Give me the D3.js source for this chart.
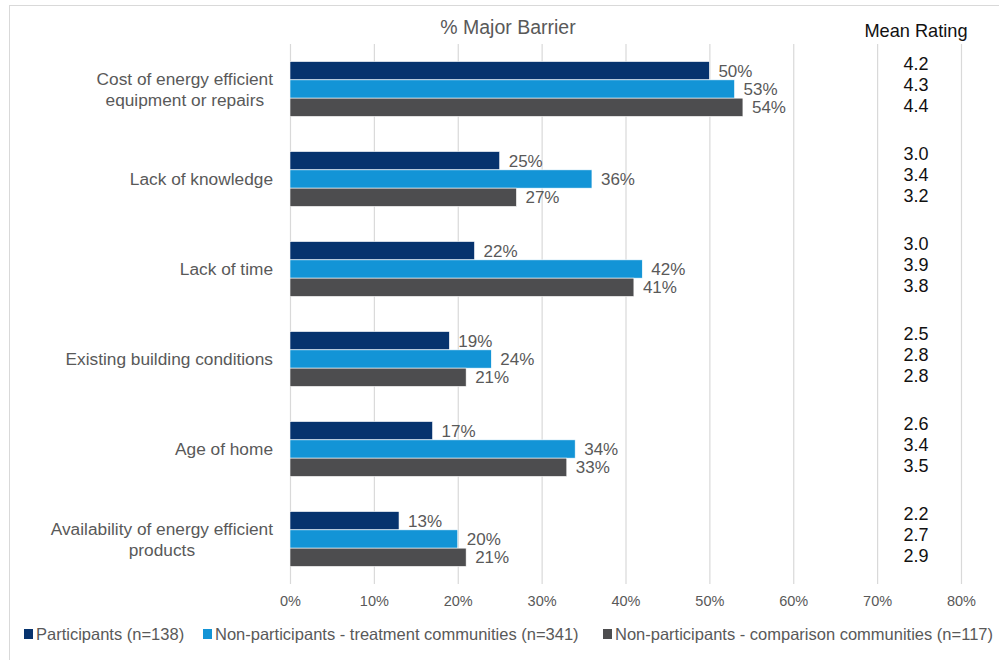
<!DOCTYPE html>
<html>
<head>
<meta charset="utf-8">
<script src="https://cdn.jsdelivr.net/npm/d3@7"></script>
<style>
  html, body { margin: 0; padding: 0; background: #fff; }
  svg { display: block; }
  text { font-family: "Liberation Sans", Arial, sans-serif; }
</style>
</head>
<body>
<svg id="chart" width="999" height="660"></svg>
<script>
// Barrier categories (two-line labels split on "\n")
const categories = [
  "Cost of energy efficient\nequipment or repairs",
  "Lack of knowledge",
  "Lack of time",
  "Existing building conditions",
  "Age of home",
  "Availability of energy efficient\nproducts"
];

const seriesNames = [
  "Participants (n=138)",
  "Non-participants - treatment communities (n=341)",
  "Non-participants - comparison communities (n=117)"
];

// % rating each barrier as a major barrier
const participants = [50, 25, 22, 19, 17, 13];
const treatment    = [53, 36, 42, 24, 34, 20];
const comparison   = [54, 27, 41, 21, 33, 21];

// Mean rating per group
const meanParticipants = [4.2, 3.0, 3.0, 2.5, 2.6, 2.2];
const meanTreatment    = [4.3, 3.4, 3.9, 2.8, 3.4, 2.7];
const meanComparison   = [4.4, 3.2, 3.8, 2.8, 3.5, 2.9];

const xTicks = [0, 10, 20, 30, 40, 50, 60, 70, 80];

const colors = ["#06336e", "#1394d6", "#4d4d4f"];
const textGray = "#595959";

const seriesValues = [participants, treatment, comparison];
const seriesMeans = [meanParticipants, meanTreatment, meanComparison];

const svg = d3.select("#chart");

// outer frame
svg.append("rect")
  .attr("x", 9.5).attr("y", 5.5)
  .attr("width", 1000).attr("height", 700)
  .attr("fill", "none").attr("stroke", "#d9d9d9");

const x = d3.scaleLinear().domain([0, 80]).range([290, 961]);
const y = d3.scaleBand().domain(categories).range([44, 584])
  .paddingInner(0.39).paddingOuter(0.195);
const ySub = d3.scaleBand().domain(d3.range(3)).range([0, y.bandwidth()]);

// vertical gridlines + axis
const xAxis = d3.axisBottom(x)
  .tickValues(xTicks)
  .tickSize(-(584 - 44))
  .tickFormat(d => d + "%");

const gx = svg.append("g")
  .attr("transform", "translate(0,584)")
  .call(xAxis);
gx.select(".domain").remove();
gx.selectAll(".tick line").attr("stroke", "#d9d9d9").attr("stroke-width", 1.2);
gx.selectAll(".tick text")
  .attr("fill", textGray)
  .attr("font-size", 14.5)
  .attr("y", 17)
  .attr("dy", "0.36em");

// bars and value labels
const groups = svg.append("g").selectAll("g")
  .data(categories)
  .join("g")
  .attr("transform", d => `translate(0,${y(d)})`);

groups.each(function(cat, ci) {
  const g = d3.select(this);
  seriesValues.forEach((vals, si) => {
    g.append("rect")
      .attr("x", x(0))
      .attr("y", ySub(si))
      .attr("width", x(vals[ci]) - x(0))
      .attr("height", ySub.bandwidth())
      .attr("fill", colors[si])
      .attr("stroke", "#ffffff")
      .attr("stroke-width", 0.6);
    g.append("text")
      .attr("x", x(vals[ci]) + 9)
      .attr("y", ySub(si) + ySub.bandwidth() / 2)
      .attr("dy", "0.36em")
      .attr("fill", textGray)
      .attr("font-size", 17)
      .text(vals[ci] + "%");
  });
});

// mean rating column: three stacked lines per category
const meanLine = 21;
groups.each(function(cat, ci) {
  const g = d3.select(this);
  const mid = y.bandwidth() / 2 - 4;
  seriesMeans.forEach((means, si) => {
    g.append("text")
      .attr("x", 916)
      .attr("y", mid + (si - 1) * meanLine)
      .attr("dy", "0.36em")
      .attr("text-anchor", "middle")
      .attr("fill", "#111")
      .attr("font-size", 18)
      .text(means[ci].toFixed(1));
  });
});

// category labels: text block right-aligned to the axis, lines centred within it
const labelRight = 273;
svg.append("g").selectAll("text")
  .data(categories)
  .join("text")
  .attr("text-anchor", "middle")
  .attr("fill", textGray)
  .attr("font-size", 17.3)
  .each(function(d) {
    const lines = d.split("\n");
    const cy = y(d) + y.bandwidth() / 2;
    const t = d3.select(this);
    const spans = lines.map((ln, i) =>
      t.append("tspan")
        .attr("y", cy + (i - (lines.length - 1) / 2) * 21)
        .attr("dy", "0.36em")
        .text(ln));
    const maxW = d3.max(spans, s => s.node().getComputedTextLength());
    spans.forEach(s => s.attr("x", labelRight - maxW / 2));
  });

// titles
svg.append("text")
  .attr("x", 508).attr("y", 27).attr("dy", "0.36em")
  .attr("text-anchor", "middle")
  .attr("fill", textGray).attr("font-size", 19.5)
  .text("% Major Barrier");

svg.append("text")
  .attr("x", 916).attr("y", 30).attr("dy", "0.36em")
  .attr("text-anchor", "middle")
  .attr("fill", "#111").attr("font-size", 18.2)
  .text("Mean Rating");

// legend
const legendX = [24, 203, 603];
const legend = svg.append("g").selectAll("g")
  .data(seriesNames)
  .join("g")
  .attr("transform", (d, i) => `translate(${legendX[i]},634)`);
legend.append("rect")
  .attr("x", 0).attr("y", -5).attr("width", 9).attr("height", 10)
  .attr("fill", (d, i) => colors[i]);
legend.append("text")
  .attr("x", 12).attr("y", 0).attr("dy", "0.36em")
  .attr("fill", textGray).attr("font-size", 16.5)
  .text(d => d);
</script>
</body>
</html>
